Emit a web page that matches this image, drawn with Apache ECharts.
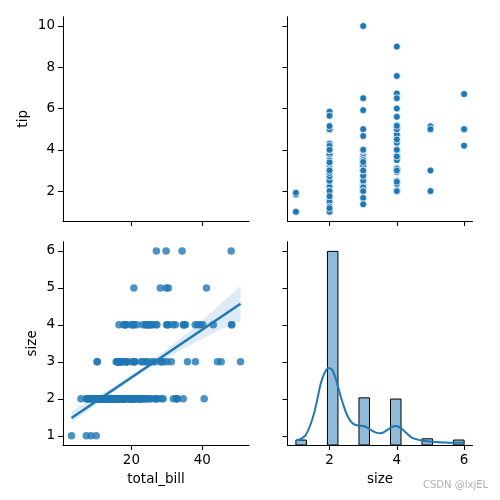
<!DOCTYPE html>
<html>
<head>
<meta charset="utf-8">
<script src="https://cdn.jsdelivr.net/npm/echarts@6/dist/echarts.min.js"></script>
<style>html,body{margin:0;padding:0;background:#fff}#c{width:500px;height:500px}</style>
</head>
<body>
<div id="c"></div>
<script>
// tips dataset values
const totalBill = [16.99,10.34,21.01,23.68,24.59,25.29,8.77,26.88,15.04,14.78,10.27,35.26,15.42,18.43,14.83,21.58,10.33,16.29,16.97,20.65,
17.92,20.29,15.77,39.42,19.82,17.81,13.37,12.69,21.7,19.65,9.55,18.35,15.06,20.69,17.78,24.06,16.31,16.93,18.69,31.27,
16.04,17.46,13.94,9.68,30.4,18.29,22.23,32.4,28.55,18.04,12.54,10.29,34.81,9.94,25.56,19.49,38.01,26.41,11.24,48.27,
20.29,13.81,11.02,18.29,17.59,20.08,16.45,3.07,20.23,15.01,12.02,17.07,26.86,25.28,14.73,10.51,17.92,27.2,22.76,17.29,
19.44,16.66,10.07,32.68,15.98,34.83,13.03,18.28,24.71,21.16,28.97,22.49,5.75,16.32,22.75,40.17,27.28,12.03,21.01,12.46,
11.35,15.38,44.3,22.42,20.92,15.36,20.49,25.21,18.24,14.31,14.0,7.25,38.07,23.95,25.71,17.31,29.93,10.65,12.43,24.08,
11.69,13.42,14.26,15.95,12.48,29.8,8.52,14.52,11.38,22.82,19.08,20.27,11.17,12.26,18.26,8.51,10.33,14.15,16.0,13.16,
17.47,34.3,41.19,27.05,16.43,8.35,18.64,11.87,9.78,7.51,14.07,13.13,17.26,24.55,19.77,29.85,48.17,25.0,13.39,16.49,
21.5,12.66,16.21,13.81,17.51,24.52,20.76,31.71,10.59,10.63,50.81,15.81,7.25,31.85,16.82,32.9,17.89,14.48,9.6,34.63,
34.65,23.33,45.35,23.17,40.55,20.69,20.9,30.46,18.15,23.1,15.69,19.81,28.44,15.48,16.58,7.56,10.34,43.11,13.0,13.51,
18.71,12.74,13.0,16.4,20.53,16.47,26.59,38.73,24.27,12.76,30.06,25.89,48.33,13.27,28.17,12.9,28.15,11.59,7.74,30.14,
12.16,13.42,8.58,15.98,13.42,16.27,10.09,20.45,13.28,22.12,24.01,15.69,11.61,10.77,15.53,10.07,12.6,32.83,35.83,29.03,
27.18,22.67,17.82,18.78];
const tip = [1.01,1.66,3.5,3.31,3.61,4.71,2.0,3.12,1.96,3.23,1.71,5.0,1.57,3.0,3.02,3.92,1.67,3.71,3.5,3.35,
4.08,2.75,2.23,7.58,3.18,2.34,2.0,2.0,4.3,3.0,1.45,2.5,3.0,2.45,3.27,3.6,2.0,3.07,2.31,5.0,
2.24,2.54,3.06,1.32,5.6,3.0,5.0,6.0,2.05,3.0,2.5,2.6,5.2,1.56,4.34,3.51,3.0,1.5,1.76,6.73,
3.21,2.0,1.98,3.76,2.64,3.15,2.47,1.0,2.01,2.09,1.97,3.0,3.14,5.0,2.2,1.25,3.08,4.0,3.0,2.71,
3.0,3.4,1.83,5.0,2.03,5.17,2.0,4.0,5.85,3.0,3.0,3.5,1.0,4.3,3.25,4.73,4.0,1.5,3.0,1.5,
2.5,3.0,2.5,3.48,4.08,1.64,4.06,4.29,3.76,4.0,3.0,1.0,4.0,2.55,4.0,3.5,5.07,1.5,1.8,2.92,
2.31,1.68,2.5,2.0,2.52,4.2,1.48,2.0,2.0,2.18,1.5,2.83,1.5,2.0,3.25,1.25,2.0,2.0,2.0,2.75,
3.5,6.7,5.0,5.0,2.3,1.5,1.36,1.63,1.73,2.0,2.5,2.0,2.74,2.0,2.0,5.14,5.0,3.75,2.61,2.0,
3.5,2.5,2.0,2.0,3.0,3.48,2.24,4.5,1.61,2.0,10.0,3.16,5.15,3.18,4.0,3.11,2.0,2.0,4.0,3.55,
3.68,5.65,3.5,6.5,3.0,5.0,3.5,2.0,3.5,4.0,1.5,4.19,2.56,2.02,4.0,1.44,2.0,5.0,2.0,2.0,
4.0,2.01,2.0,2.5,4.0,3.23,3.41,3.0,2.03,2.23,2.0,5.16,9.0,2.5,6.5,1.1,3.0,1.5,1.44,3.09,
2.2,3.48,1.92,3.0,1.58,2.5,2.0,3.0,2.72,2.88,2.0,3.0,3.39,1.47,3.0,1.25,1.0,1.17,4.67,5.92,
2.0,2.0,1.75,3.0];
const size = [2,3,3,2,4,4,2,4,2,2,2,4,2,4,2,2,3,3,3,3,
2,2,2,4,2,4,2,2,2,2,2,4,2,4,2,3,3,3,3,3,
3,2,2,2,4,2,2,4,3,2,2,2,4,2,4,2,4,2,2,4,
2,2,2,4,3,3,2,1,2,2,2,3,2,2,2,2,2,4,2,2,
2,2,1,2,2,4,2,2,2,2,2,2,2,2,2,4,2,2,2,2,
2,2,3,2,2,2,2,2,2,2,2,1,3,2,3,2,4,2,2,4,
2,2,2,2,2,6,2,2,2,3,2,2,2,2,2,2,2,2,2,2,
2,6,5,6,2,2,3,2,2,2,2,2,3,4,4,5,6,4,2,4,
4,2,3,2,2,3,2,4,2,2,3,2,2,2,2,2,2,2,2,2,
4,2,3,4,2,5,3,5,3,3,2,2,2,2,2,2,2,4,2,2,
3,2,2,2,4,3,3,4,2,2,3,4,4,2,3,2,5,2,2,4,
2,2,1,3,2,2,2,4,2,2,4,3,2,2,2,2,2,2,3,3,
2,2,2,2];

// histogram of size (bin edges and counts)
const binLeft  = [1.0, 1.9375, 2.875, 3.8125, 4.75, 5.6875];
const binRight = [1.3125, 2.25, 3.1875, 4.125, 5.0625, 6.0];
const binCount = [4, 156, 38, 37, 5, 4];

// KDE curve (in count units)
const kdeX = [1.0, 1.15, 1.29, 1.42, 1.54, 1.65, 1.74, 1.86, 1.98, 2.06, 2.13, 2.22, 2.32, 2.42, 2.52, 2.62, 2.72, 2.86, 3.01, 3.13, 3.26, 3.38, 3.5, 3.62, 3.74, 3.86, 3.97, 4.08, 4.19, 4.31, 4.43, 4.6, 4.77, 4.97, 5.17, 5.36, 5.56, 5.76, 6.0];
const kdeY = [3.5, 5.0, 8.0, 15.5, 25.6, 38.5, 49.8, 58.5, 62.0, 61.0, 57.8, 50.0, 40.3, 31.5, 24.2, 19.5, 16.9, 15.6, 15.3, 13.8, 11.6, 10.0, 9.4, 10.4, 12.6, 14.6, 15.3, 14.3, 12.1, 9.0, 6.2, 4.5, 3.5, 2.9, 2.4, 2.1, 1.9, 1.8, 1.8];

// regression line and confidence band (size ~ total_bill)
const regLineX = [3.07, 50.81];
const regLineY = [1.48, 4.57];
const bandX    = [3.07, 10, 15, 20, 25, 30, 35, 40, 45, 50.81];
const bandLow  = [1.36, 1.84, 2.18, 2.52, 2.83, 3.10, 3.37, 3.62, 3.87, 4.10];
const bandHigh = [1.66, 2.05, 2.33, 2.64, 2.98, 3.34, 3.72, 4.12, 4.55, 5.05];

const tipTicks = [2, 4, 6, 8, 10];
const sizeTicks = [1, 2, 3, 4, 5, 6];
const sizeXTicks = [2, 4, 6];
const billTicks = [20, 40];

const BLUE = '#1f77b4';
const FONT = 'DejaVu Sans';
const TXT = {color: '#000', fontFamily: FONT, fontSize: 13.5};

function axis(o) {
  return Object.assign({
    type: 'value',
    splitLine: {show: false},
    axisLine: {show: true, onZero: false, lineStyle: {color: '#000', width: 1}},
    axisTick: {show: true, length: 5, lineStyle: {color: '#000', width: 1}, customValues: o.ticks},
    axisLabel: {show: o.labels, margin: 8, color: '#000', fontFamily: FONT, fontSize: 13.5, customValues: o.ticks},
    nameLocation: 'middle',
    nameTextStyle: TXT
  }, o.extra);
}

const chart = echarts.init(document.getElementById('c'), null, {renderer: 'canvas'});

const option = {
  animation: false,
  backgroundColor: '#fff',
  grid: [
    {left: 63, top: 16.7, width: 186, height: 204.3},
    {left: 287.5, top: 16.7, width: 185, height: 204.3},
    {left: 63, top: 241.7, width: 186, height: 203.3},
    {left: 287.5, top: 241.7, width: 185, height: 203.3}
  ],
  xAxis: [
    axis({ticks: billTicks, labels: false, extra: {gridIndex: 0, min: 0.68, max: 53.2}}),
    axis({ticks: sizeXTicks, labels: false, extra: {gridIndex: 1, min: 0.75, max: 6.25}}),
    axis({ticks: billTicks, labels: true, extra: {gridIndex: 2, min: 0.68, max: 53.2, name: 'total_bill', nameGap: 27}}),
    axis({ticks: sizeXTicks, labels: true, extra: {gridIndex: 3, min: 0.75, max: 6.25, name: 'size', nameGap: 27}})
  ],
  yAxis: [
    axis({ticks: tipTicks, labels: true, extra: {gridIndex: 0, min: 0.55, max: 10.45, name: 'tip', nameGap: 33}}),
    axis({ticks: tipTicks, labels: false, extra: {gridIndex: 1, min: 0.55, max: 10.45}}),
    axis({ticks: sizeTicks, labels: true, extra: {gridIndex: 2, min: 0.75, max: 6.25, name: 'size', nameGap: 24}}),
    axis({ticks: sizeTicks, labels: false, extra: {gridIndex: 3, min: 0.75, max: 6.25}}),
    {type: 'value', gridIndex: 3, min: 0, max: 163.8, show: false, splitLine: {show: false}}
  ],
  graphic: [{
    type: 'text', left: 423, top: 480,
    style: {text: 'CSDN @lxjEL', fill: '#b0b0b0', font: '10px "DejaVu Sans"'}
  }],
  series: [
    {
      type: 'scatter', xAxisIndex: 1, yAxisIndex: 1,
      data: size.map((s, i) => [s, tip[i]]),
      symbolSize: 7,
      itemStyle: {color: BLUE, borderColor: '#fff', borderWidth: 0.75, opacity: 1}
    },
    {
      type: 'scatter', xAxisIndex: 2, yAxisIndex: 2,
      data: totalBill.map((b, i) => [b, size[i]]),
      symbolSize: 7.5,
      itemStyle: {color: BLUE, opacity: 0.8}
    },
    {
      type: 'custom', xAxisIndex: 2, yAxisIndex: 2, z: 3,
      data: [[0]],
      renderItem: function (params, api) {
        const pts = [];
        for (let i = 0; i < bandX.length; i++) pts.push(api.coord([bandX[i], bandHigh[i]]));
        for (let i = bandX.length - 1; i >= 0; i--) pts.push(api.coord([bandX[i], bandLow[i]]));
        return {type: 'polygon', shape: {points: pts}, style: {fill: 'rgba(31,119,180,0.15)'}};
      }
    },
    {
      type: 'line', xAxisIndex: 2, yAxisIndex: 2, z: 4,
      data: regLineX.map((x, i) => [x, regLineY[i]]),
      showSymbol: false, lineStyle: {color: BLUE, width: 2.5}
    },
    {
      type: 'custom', xAxisIndex: 3, yAxisIndex: 4,
      data: binLeft.map((l, i) => [l, binRight[i], binCount[i]]),
      renderItem: function (params, api) {
        const p0 = api.coord([api.value(0), 0]);
        const p1 = api.coord([api.value(1), api.value(2)]);
        return {
          type: 'rect',
          shape: {x: p0[0], y: p1[1], width: p1[0] - p0[0], height: p0[1] - p1[1]},
          style: {fill: 'rgba(31,119,180,0.5)', stroke: '#000', lineWidth: 1}
        };
      }
    },
    {
      type: 'line', xAxisIndex: 3, yAxisIndex: 4, z: 5,
      data: kdeX.map((x, i) => [x, kdeY[i]]),
      smooth: 0.3, showSymbol: false,
      lineStyle: {color: BLUE, width: 2}
    }
  ]
};
chart.setOption(option);
</script>
</body>
</html>
